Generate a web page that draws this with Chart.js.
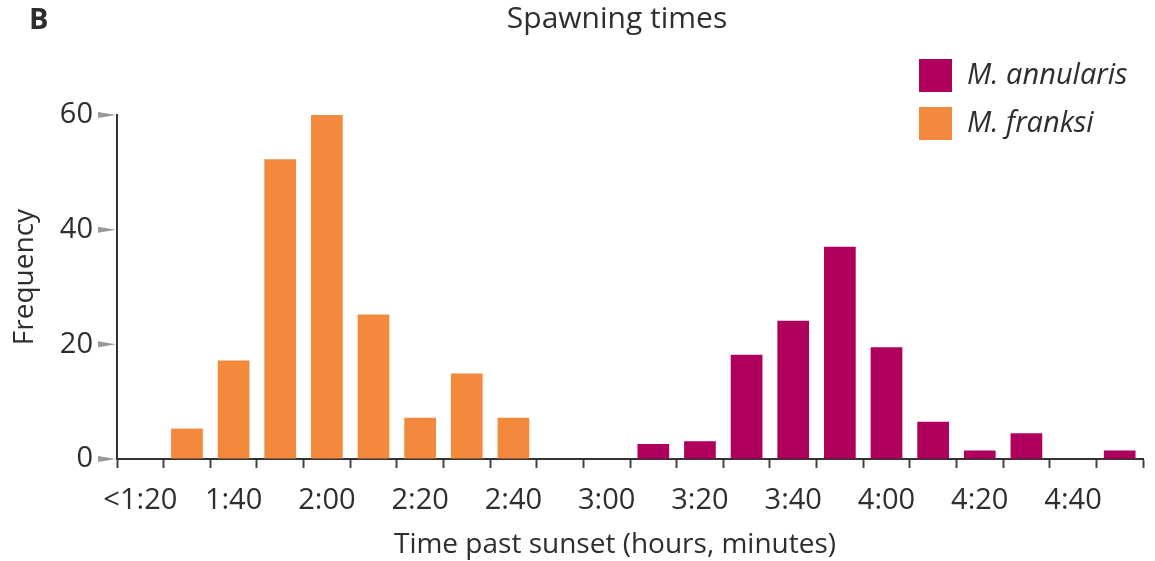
<!DOCTYPE html>
<html>
<head>
<meta charset="utf-8">
<script src="https://cdn.jsdelivr.net/npm/chart.js@4"></script>
<style>
  body { margin: 0; background: #fff; }
  #wrap { width: 1155px; height: 561px; position: relative; }
</style>
</head>
<body>
<div id="wrap"><canvas id="spawnChart"></canvas></div>
<script>
/* ================= DATA ================= */

const categories = ["<1:20", "1:30", "1:40", "1:50", "2:00", "2:10", "2:20", "2:30", "2:40", "2:50", "3:00",
                    "3:10", "3:20", "3:30", "3:40", "3:50", "4:00", "4:10", "4:20", "4:30", "4:40", "4:50"];

const annularis = [null, null, null, null, null, null, null, null, null, null, null,
                   2.6, 3.1, 18.2, 24.1, 37, 19.5, 6.5, 1.5, 4.5, null, 1.5];

const franksi = [null, 5.3, 17.2, 52.3, 60, 25.2, 7.2, 14.9, 7.2, null, null,
                 null, null, null, null, null, null, null, null, null, null, null];

const yTicks = [0, 20, 40, 60];

const purple = "#B0005E";
const orange = "#F2893C";
const textColor = "#2e2e2e";
const fontFamily = "'Open Sans', sans-serif";

/* ================= EXTRA TEXT + LEGEND ================= */

const decorations = {
    id: "decorations",
    afterDraw(chart) {
        const c = chart.ctx;
        const yScale = chart.scales.y;
        c.save();
        c.fillStyle = textColor;
        c.textBaseline = "middle";

        c.font = "bold 29px " + fontFamily;
        c.textAlign = "left";
        c.fillText("B", 29, 21);

        c.font = "30px " + fontFamily;
        c.textAlign = "center";
        c.fillText("Spawning times", 617, 19);

        // axis titles
        c.font = "28px " + fontFamily;
        c.fillText("Time past sunset (hours, minutes)", 615, 545);
        c.save();
        c.translate(25, 277);
        c.rotate(-Math.PI / 2);
        c.fillText("Frequency", 0, 0);
        c.restore();

        // little wedge ticks on the y axis
        c.fillStyle = "#999";
        yTicks.forEach(v => {
            const y = yScale.getPixelForValue(v);
            c.beginPath();
            c.moveTo(98, y - 3);
            c.lineTo(98, y + 3);
            c.lineTo(116, y);
            c.closePath();
            c.fill();
        });

        // legend boxes
        c.textAlign = "left";
        c.font = "italic 29px " + fontFamily;
        chart.data.datasets.forEach((ds, i) => {
            const y = 59 + i * 48;
            c.fillStyle = ds.backgroundColor;
            c.fillRect(919, y, 33, 33);
            c.fillStyle = textColor;
            c.fillText(ds.label, 967, y + 17);
        });
        c.restore();
    }
};

/* ================= CHART ================= */

const ctx = document.getElementById("spawnChart").getContext("2d");

new Chart(ctx, {
    type: "bar",
    data: {
        labels: categories,
        datasets: [{
            label: "M. annularis",
            data: annularis,
            backgroundColor: purple
        }, {
            label: "M. franksi",
            data: franksi,
            backgroundColor: orange
        }]
    },
    options: {
        responsive: true,
        maintainAspectRatio: false,
        animation: false,
        grouped: false,
        barPercentage: 0.68,
        categoryPercentage: 1,
        layout: { padding: { top: 115, right: 12, left: 0, bottom: 0 } },
        plugins: {
            legend: { display: false },
            tooltip: { enabled: false }
        },
        scales: {
            x: {
                offset: true,
                afterFit: s => { s.height = 102; },
                grid: {
                    offset: true,
                    drawOnChartArea: false,
                    tickLength: 9,
                    tickColor: "#444",
                    tickWidth: 2
                },
                border: { color: "#333", width: 2 },
                ticks: {
                    autoSkip: false,
                    maxRotation: 0,
                    padding: 15,
                    color: textColor,
                    font: { family: fontFamily, size: 29 },
                    callback: (v, i) => (i % 2 === 0 ? categories[i] : "")
                }
            },
            y: {
                min: 0,
                max: 60,
                afterFit: s => { s.width = 117; },
                afterBuildTicks: s => { s.ticks = yTicks.map(v => ({ value: v })); },
                grid: {
                    drawOnChartArea: false,
                    tickLength: 14,
                    tickColor: "rgba(0,0,0,0)"
                },
                border: { color: "#333", width: 2 },
                ticks: {
                    padding: 10,
                    color: textColor,
                    font: { family: fontFamily, size: 29 }
                }
            }
        }
    },
    plugins: [decorations]
});
</script>
</body>
</html>
